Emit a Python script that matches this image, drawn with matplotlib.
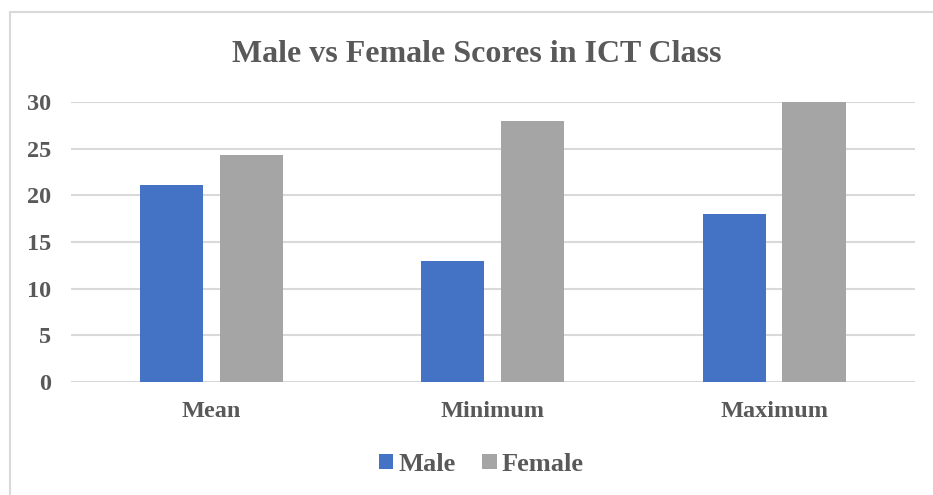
import numpy as np
import matplotlib.pyplot as plt
from matplotlib.lines import Line2D

plt.rcParams['font.family'] = ['Liberation Serif', 'DejaVu Serif']
plt.rcParams['font.weight'] = 'bold'

categories = ['Mean', 'Minimum', 'Maximum']
male = [21.1, 13, 18]
female = [24.3, 28, 30]
yticks = [0, 5, 10, 15, 20, 25, 30]

text_col = '#595959'
grid_col = '#D9D9D9'

fig = plt.figure(figsize=(9.33, 4.95), dpi=100)
ax = fig.add_axes([0.0761, 0.2283, 0.9046, 0.5657])

x = np.arange(len(categories))
w = 0.224
ax.bar(x - 0.143, male, w, color='#4472C4', label='Male', zorder=3)
ax.bar(x + 0.141, female, w, color='#A5A5A5', label='Female', zorder=3)

ax.set_xlim(-0.5, 2.5)
ax.set_ylim(0, 30)
ax.set_yticks(yticks)
ax.set_xticks(x)
ax.set_xticklabels(categories)
ax.grid(axis='y', color=grid_col, linewidth=1.5, zorder=0)
for s in ax.spines.values():
    s.set_visible(False)
ax.tick_params(length=0, labelsize=17.5, labelcolor=text_col)
ax.tick_params(axis='y', pad=14)
ax.tick_params(axis='x', pad=14)

fig.text(0.511, 0.889, 'Male vs Female Scores in ICT Class', ha='center', va='center',
         fontsize=23, color=text_col, fontweight='bold')

fig.legend(loc='center', bbox_to_anchor=(0.516, 0.062), ncol=2, frameon=False,
           fontsize=19, labelcolor=text_col, handlelength=0.55, handleheight=0.55,
           handletextpad=0.2, columnspacing=1.0)

# outer chart frame (top and left edges)
fig.add_artist(Line2D([9.5 / 933, 1.0], [1 - 12 / 495, 1 - 12 / 495], color=grid_col, linewidth=1.5))
fig.add_artist(Line2D([9.5 / 933, 9.5 / 933], [0, 1 - 12 / 495], color=grid_col, linewidth=1.5))

fig.savefig('out.png', dpi=100)
